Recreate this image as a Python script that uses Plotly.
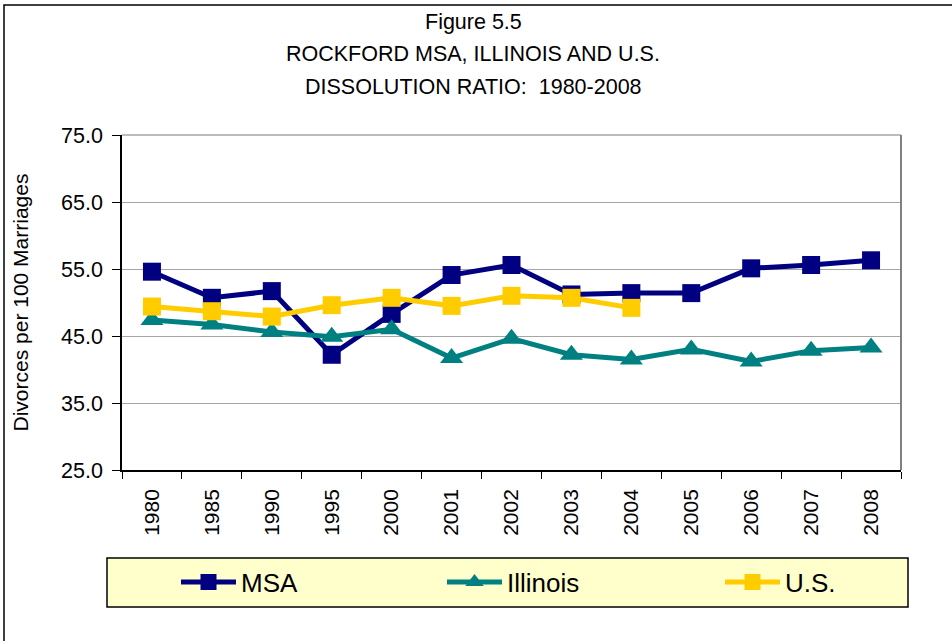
import plotly.graph_objects as go

YEARS = ['1980', '1985', '1990', '1995', '2000', '2001', '2002',
         '2003', '2004', '2005', '2006', '2007', '2008']
MSA = [54.6, 50.7, 51.7, 42.2, 48.3, 54.1, 55.6, 51.2, 51.4, 51.4, 55.1, 55.6, 56.3]
ILLINOIS = [47.4, 46.7, 45.6, 44.9, 46.0, 41.7, 44.6, 42.2, 41.5, 43.0, 41.2, 42.8, 43.3]
US = [49.4, 48.7, 47.9, 49.6, 50.7, 49.5, 51.0, 50.7, 49.2]

TITLE_LINES = ["Figure 5.5", "ROCKFORD MSA, ILLINOIS AND U.S.", "DISSOLUTION RATIO:  1980-2008"]
Y_TITLE = "Divorces per 100 Marriages"

FONT = "Arial, Liberation Sans, sans-serif"
W, H = 952, 641
L, R, T, B = 122, 51, 135, 171
PW, PH = W - L - R, H - T - B


def px_x(px):
    return (px - L) / PW


def px_y(py):
    return (H - B - py) / PH


fig = go.Figure()

fig.add_trace(go.Scatter(
    x=YEARS, y=MSA, name="MSA", mode="lines+markers", legend="legend",
    line=dict(color="#000080", width=5),
    marker=dict(symbol="square", size=18, color="#000080")
))
fig.add_trace(go.Scatter(
    x=YEARS, y=ILLINOIS, name="Illinois", mode="lines+markers", legend="legend2",
    line=dict(color="#008080", width=5),
    marker=dict(symbol="triangle-up", size=20, color="#008080")
))
fig.add_trace(go.Scatter(
    x=YEARS[:len(US)], y=US, name="U.S.", mode="lines+markers", legend="legend3",
    line=dict(color="#FFCC00", width=5),
    marker=dict(symbol="square", size=18, color="#FFCC00")
))

shapes = [
    # outer chart border (only top/left visible in frame)
    dict(type="rect", xref="paper", yref="paper",
         x0=px_x(4), x1=px_x(965), y0=px_y(5), y1=px_y(660),
         line=dict(color="black", width=1.5), fillcolor="rgba(0,0,0,0)", layer="below"),
    # top and right edges of plot area
    dict(type="line", xref="paper", yref="paper", x0=0, x1=1, y0=1, y1=1,
         line=dict(color="#A6A6A6", width=1.5), layer="below"),
    dict(type="line", xref="paper", yref="paper", x0=1, x1=1, y0=0, y1=1,
         line=dict(color="#808080", width=2)),
    # legend box
    dict(type="rect", xref="paper", yref="paper",
         x0=px_x(107), x1=px_x(908), y0=px_y(558), y1=px_y(607),
         line=dict(color="black", width=1.5), fillcolor="#FFFFCC", layer="below"),
]

annotations = []
for i, line in enumerate(TITLE_LINES):
    annotations.append(dict(
        text=line, xref="paper", yref="paper", x=px_x(473), y=px_y(22 + 32.5 * i),
        xanchor="center", yanchor="middle", showarrow=False,
        font=dict(family=FONT, size=21.5, color="black")
    ))


def legend_at(px):
    return dict(
        orientation="h", x=px_x(px), y=px_y(582), xanchor="left", yanchor="middle",
        bgcolor="rgba(0,0,0,0)", font=dict(family=FONT, size=26), itemwidth=55
    )


fig.update_layout(
    width=W, height=H,
    margin=dict(l=L, r=R, t=T, b=B, autoexpand=False),
    paper_bgcolor="white", plot_bgcolor="white",
    font=dict(family=FONT, color="black"),
    shapes=shapes,
    annotations=annotations,
    showlegend=True,
    legend=legend_at(176),
    legend2=legend_at(442),
    legend3=legend_at(720),
    xaxis=dict(
        type="category", range=[-0.5, len(YEARS) - 0.5], tickson="boundaries",
        ticks="outside", ticklen=7, tickcolor="black", tickangle=-90,
        showline=True, linecolor="black", linewidth=1.5, showgrid=False,
        tickfont=dict(size=21), ticklabelstandoff=9, automargin=False
    ),
    yaxis=dict(
        range=[25, 75], tick0=25, dtick=10, tickformat=".1f", ticks="outside",
        ticklen=8, tickcolor="black", showline=True, linecolor="black", linewidth=1.5,
        gridcolor="#A6A6A6", gridwidth=1.2, zeroline=False,
        tickfont=dict(size=21.5), ticklabelstandoff=5, automargin=False,
        title=dict(text=Y_TITLE, font=dict(size=21), standoff=27)
    ),
)

fig.write_html("out.html", config={"displayModeBar": False},
               post_script="document.body.style.margin='0';")
